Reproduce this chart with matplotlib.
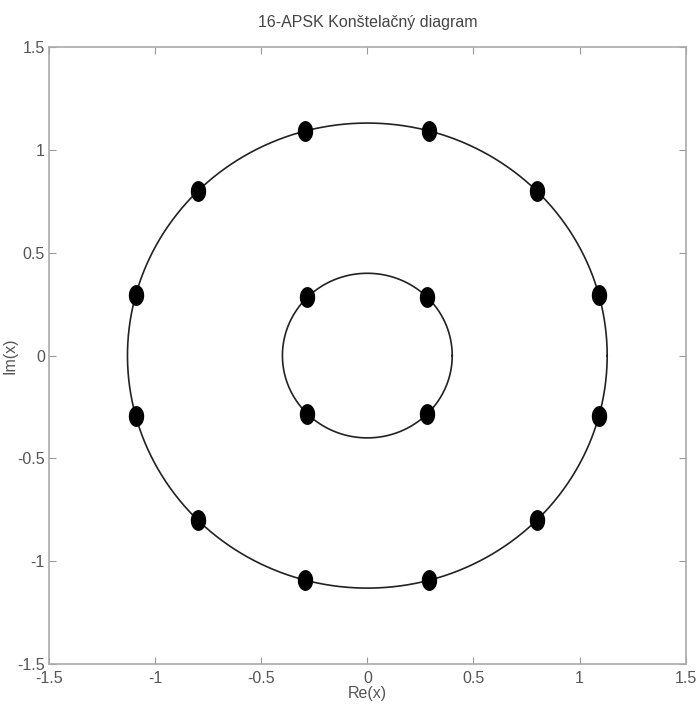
import numpy as np
import matplotlib
matplotlib.use("Agg")
import matplotlib.pyplot as plt
from matplotlib.path import Path

plt.rcParams['font.family'] = ['Liberation Sans', 'DejaVu Sans']

# ring radii and symbol angles (degrees)
inner_radius = 0.40
outer_radius = 1.13
inner_angles = [45, 135, 225, 315]
outer_angles = [15, 45, 75, 105, 135, 165, 195, 225, 255, 285, 315, 345]

ticks = [-1.5, -1, -0.5, 0, 0.5, 1, 1.5]
tick_labels = ['-1.5', '-1', '-0.5', '0', '0.5', '1', '1.5']

# slightly tall elliptic marker like the original
t = np.linspace(0, 2 * np.pi, 40)
ellipse = Path(np.column_stack([0.72 * np.cos(t), np.sin(t)]))

fig = plt.figure(figsize=(6.99, 7.22), dpi=100)
ax = fig.add_axes([0.070, 0.080, 0.911, 0.855])

theta = np.linspace(0, 2 * np.pi, 400)
for r in (inner_radius, outer_radius):
    ax.plot(r * np.cos(theta), r * np.sin(theta), color='#222222', lw=1.2)

for r, angs in ((inner_radius, inner_angles), (outer_radius, outer_angles)):
    a = np.deg2rad(angs)
    ax.plot(r * np.cos(a), r * np.sin(a), linestyle='none', marker=ellipse,
            markersize=14, color='black')

ax.set_xlim(-1.5, 1.5)
ax.set_ylim(-1.5, 1.5)
ax.set_xticks(ticks)
ax.set_xticklabels(tick_labels)
ax.set_yticks(ticks)
ax.set_yticklabels(tick_labels)
ax.tick_params(direction='in', top=True, right=True, length=5, width=0.8,
               colors='#999999', labelcolor='#555555', labelsize=11.5)
ax.tick_params(axis='x', pad=5)
ax.tick_params(axis='y', pad=3)
for s in ax.spines.values():
    s.set_color('#aaaaaa')
    s.set_linewidth(1.2)

ax.set_title('16-APSK Konštelačný diagram', fontsize=11.5, color='#444444', pad=14)
ax.set_xlabel('Re(x)', fontsize=11.5, color='#555555', labelpad=0)
ax.set_ylabel('Im(x)', fontsize=11.5, color='#555555')
ax.yaxis.set_label_coords(-0.05, 0.5)

fig.savefig('out.png', dpi=100)
